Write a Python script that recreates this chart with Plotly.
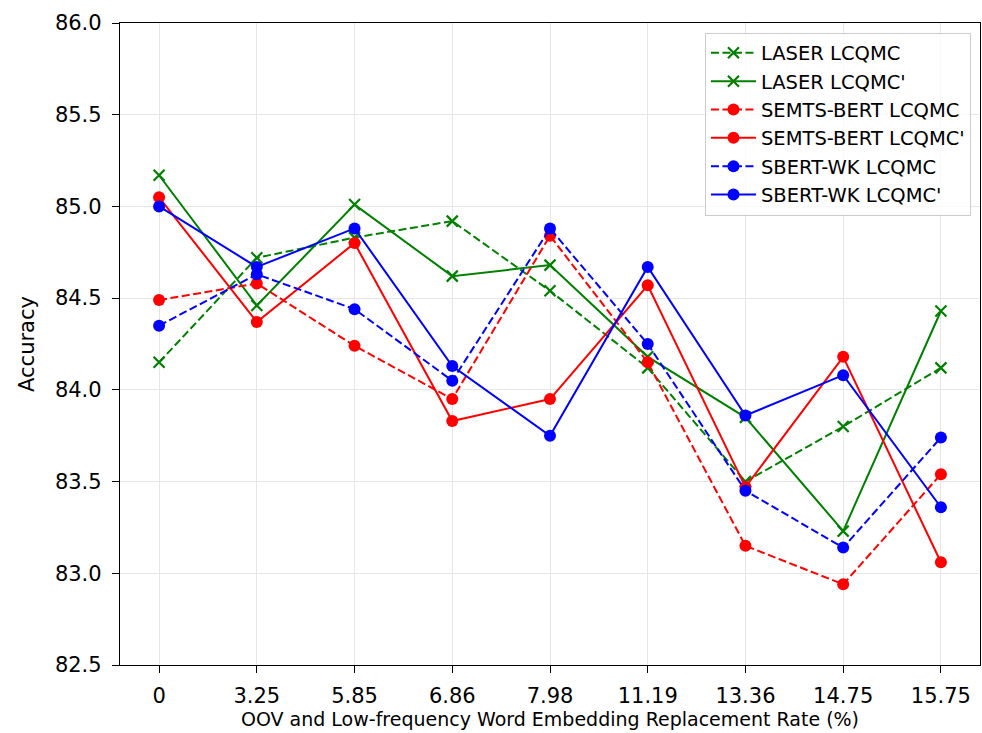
import plotly.graph_objects as go

x_labels = ["0", "3.25", "5.85", "6.86", "7.98", "11.19", "13.36", "14.75", "15.75"]
laser_lcqmc = [84.15, 84.72, 84.83, 84.92, 84.54, 84.12, 83.50, 83.80, 84.12]
laser_lcqmc_p = [85.17, 84.46, 85.01, 84.62, 84.68, 84.18, 83.85, 83.23, 84.43]
semts_lcqmc = [84.49, 84.58, 84.24, 83.95, 84.84, 84.15, 83.15, 82.94, 83.54]
semts_lcqmc_p = [85.05, 84.37, 84.80, 83.83, 83.95, 84.57, 83.47, 84.18, 83.06]
sbert_lcqmc = [84.35, 84.63, 84.44, 84.05, 84.88, 84.25, 83.45, 83.14, 83.74]
sbert_lcqmc_p = [85.00, 84.67, 84.88, 84.13, 83.75, 84.67, 83.86, 84.08, 83.36]
y_ticks = [82.5, 83.0, 83.5, 84.0, 84.5, 85.0, 85.5, 86.0]

xi = list(range(len(x_labels)))
DASH = "8px,3.5px"

series = [
    ("LASER LCQMC", laser_lcqmc, "#008000", DASH, "x-thin"),
    ("LASER LCQMC'", laser_lcqmc_p, "#008000", "solid", "x-thin"),
    ("SEMTS-BERT LCQMC", semts_lcqmc, "#ff0000", DASH, "circle"),
    ("SEMTS-BERT LCQMC'", semts_lcqmc_p, "#ff0000", "solid", "circle"),
    ("SBERT-WK LCQMC", sbert_lcqmc, "#0000ff", DASH, "circle"),
    ("SBERT-WK LCQMC'", sbert_lcqmc_p, "#0000ff", "solid", "circle"),
]

fig = go.Figure()
for i, (name, vals, col, dash, sym) in enumerate(series):
    if sym == "x-thin":
        marker = dict(symbol=sym, size=11, color=col, line=dict(color=col, width=2.2))
    else:
        marker = dict(symbol=sym, size=12, color=col, line=dict(width=0))
    fig.add_trace(go.Scatter(
        x=xi, y=vals, name=name, mode="lines+markers",
        line=dict(color=col, width=2, dash=dash),
        marker=marker, legendgroup=f"g{i}",
    ))

fig.update_layout(
    width=982, height=733,
    margin=dict(l=120, r=2, t=23, b=68),
    paper_bgcolor="white", plot_bgcolor="white",
    font=dict(family="DejaVu Sans", color="black", size=21),
    showlegend=True,
    legend=dict(
        x=0.9895, y=0.985, xanchor="right", yanchor="top",
        bgcolor="rgba(255,255,255,0.8)", bordercolor="#cccccc", borderwidth=1,
        font=dict(size=19.5, family="DejaVu Sans", color="black"),
        traceorder="grouped", tracegroupgap=0.0, itemwidth=45,
    ),
)
fig.update_xaxes(
    range=[-0.4, 8.4], tickmode="array", tickvals=xi, ticktext=x_labels,
    showline=True, mirror=True, linecolor="black", linewidth=1.3,
    ticks="outside", ticklen=7, tickwidth=1.3, tickcolor="black",
    showgrid=True, gridcolor="#e6e6e6", gridwidth=1.3, zeroline=False,
    tickfont=dict(size=21), ticklabelstandoff=5, automargin=False,
    title=dict(text="OOV and Low-frequency Word Embedding Replacement Rate (%)",
               font=dict(size=19), standoff=3),
)
fig.update_yaxes(
    range=[82.5, 86.0], tickmode="array", tickvals=y_ticks,
    ticktext=[f"{v:.1f}" for v in y_ticks],
    showline=True, mirror=True, linecolor="black", linewidth=1.3,
    ticks="outside", ticklen=7, tickwidth=1.3, tickcolor="black",
    showgrid=True, gridcolor="#e6e6e6", gridwidth=1.3, zeroline=False,
    tickfont=dict(size=21), ticklabelstandoff=6, automargin=False,
    title=dict(text="Accuracy", font=dict(size=21), standoff=14),
)

fig.write_html(
    "out.html",
    config={"displayModeBar": False},
    post_script="document.body.style.margin='0';document.body.style.overflow='hidden';",
)
